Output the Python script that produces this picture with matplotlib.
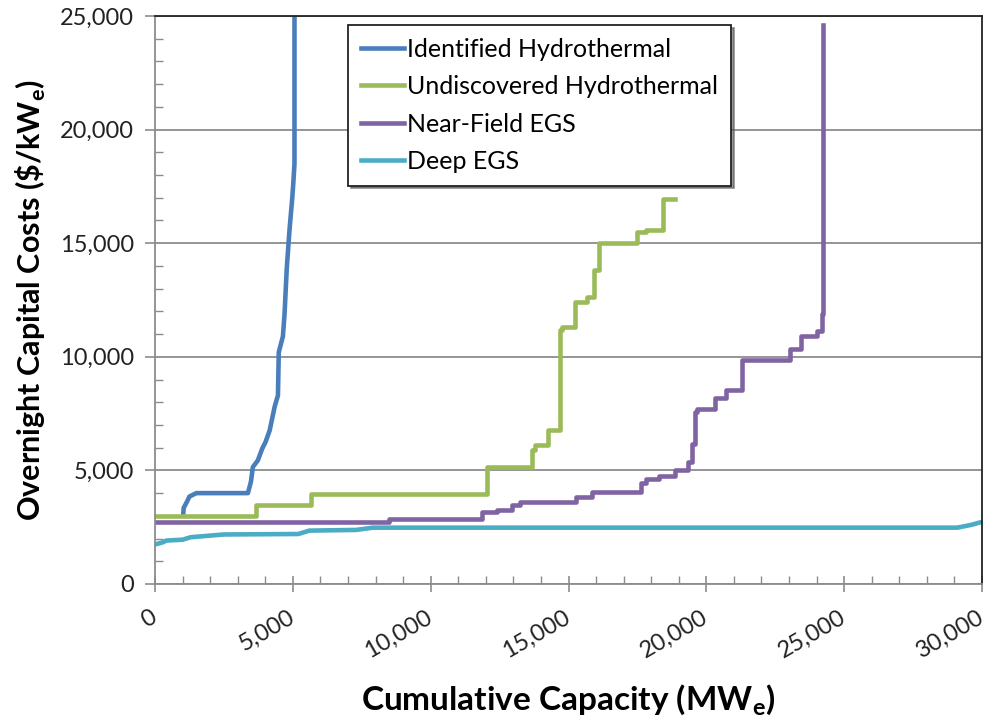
import matplotlib.pyplot as plt
from matplotlib.ticker import MultipleLocator, FuncFormatter

# Supply curves (MW_e, $/kW_e)
ident_x = [1020, 1040, 1150, 1250, 1500, 3370, 3480, 3550, 3730, 3890, 4010, 4160,
           4340, 4460, 4490, 4640, 4700, 4780, 4880, 4980, 5020, 5060, 5060]
ident_y = [3000, 3350, 3600, 3850, 4000, 4000, 4500, 5150, 5440, 5960, 6250, 6760,
           7800, 8300, 10200, 10900, 11900, 13900, 15600, 17000, 17700, 18500, 26000]

undisc_x = [0, 3670, 5660, 12030, 13660, 13800, 14270, 14690, 14750, 15230, 15660,
            15920, 16120, 17500, 17810, 18440, 18880]
undisc_y = [3000, 3460, 3970, 5160, 5900, 6120, 6780, 11180, 11330, 12430, 12650,
            13820, 15000, 15510, 15580, 16930, 16930]

near_x = [0, 8500, 11850, 12390, 12940, 13240, 15290, 15840, 17640, 17820, 18300,
          18850, 19330, 19470, 19600, 19660, 20300, 20700, 21310, 23050, 23430,
          24000, 24210, 24240]
near_y = [2740, 2870, 3180, 3260, 3480, 3620, 3840, 4040, 4430, 4630, 4750,
          5020, 5380, 6150, 7580, 7700, 8180, 8550, 9860, 10340, 10910,
          11120, 11900, 24600]

deep_x = [0, 300, 400, 1000, 1300, 2000, 2500, 5200, 5600, 7300, 7900, 29100, 29600, 30200]
deep_y = [1740, 1840, 1910, 1950, 2060, 2130, 2180, 2200, 2350, 2380, 2480, 2480, 2600, 2800]

labels = ["Identified Hydrothermal", "Undiscovered Hydrothermal", "Near-Field EGS", "Deep EGS"]
colors = ["#4A7EBB", "#9BBB59", "#8064A2", "#4BACC6"]

plt.rcParams['font.family'] = ['Lato', 'DejaVu Sans']
plt.rcParams['mathtext.fontset'] = 'custom'
plt.rcParams['mathtext.rm'] = 'Lato'
plt.rcParams['mathtext.bf'] = 'Lato:bold'

fig = plt.figure(figsize=(9.87, 7.21), dpi=100)
ax = fig.add_axes([155 / 987, 137 / 721, 827 / 987, 568 / 721])

lw = 3.3
ax.plot(ident_x, ident_y, color=colors[0], lw=lw, label=labels[0])
ax.plot(undisc_x, undisc_y, color=colors[1], lw=lw, drawstyle='steps-post', label=labels[1])
ax.plot(near_x, near_y, color=colors[2], lw=lw, drawstyle='steps-post', label=labels[2])
ax.plot(deep_x, deep_y, color=colors[3], lw=lw, label=labels[3])

ax.set_xlim(0, 30000)
ax.set_ylim(0, 25000)

# grid and ticks
ax.yaxis.set_major_locator(MultipleLocator(5000))
ax.yaxis.set_minor_locator(MultipleLocator(1000))
ax.xaxis.set_major_locator(MultipleLocator(5000))
ax.xaxis.set_minor_locator(MultipleLocator(1000))
ax.grid(axis='y', which='major', color='#8c8c8c', lw=1.3)
ax.set_axisbelow(True)
fmt = FuncFormatter(lambda v, p: f"{int(v):,}")
ax.xaxis.set_major_formatter(fmt)
ax.yaxis.set_major_formatter(fmt)
ax.tick_params(which='major', direction='inout', length=12, width=1.2, color='#8c8c8c',
               labelsize=17, labelcolor='#222222')
ax.tick_params(which='minor', direction='in', length=6, width=1, color='#8c8c8c')
ax.tick_params(axis='y', which='major', direction='out', length=7, pad=8)
ax.tick_params(axis='x', which='major', pad=17)
plt.setp(ax.get_xticklabels(), rotation=30, ha='right', va='center', rotation_mode='anchor')

for side in ['left', 'bottom']:
    ax.spines[side].set_color('#8c8c8c')
    ax.spines[side].set_linewidth(1.3)
for side in ['top', 'right']:
    ax.spines[side].set_color('#222222')
    ax.spines[side].set_linewidth(1.3)

ax.set_xlabel(r"Cumulative Capacity (MW$_\mathbf{e}$)", fontsize=24, fontweight='bold')
ax.set_ylabel(r"Overnight Capital Costs (\$/kW$_\mathbf{e}$)", fontsize=22,
              fontweight='bold')
ax.xaxis.set_label_coords(0.5, -(683 - 584) / 568)
ax.yaxis.set_label_coords(-(155 - 48) / 827, 0.5)

leg = ax.legend(loc='upper left', bbox_to_anchor=(193 / 827, 0.984), fontsize=18,
                frameon=True, fancybox=False, handlelength=1.75,
                handletextpad=0.12, labelspacing=0.58, borderpad=0.5,
                borderaxespad=0, framealpha=1,
                shadow={'color': '#555555', 'alpha': 0.6})
leg.get_frame().set_edgecolor('#222222')
leg.get_frame().set_linewidth(1.3)
leg.get_frame().set_facecolor('white')
for line in leg.get_lines():
    line.set_linewidth(3.3)

fig.savefig("out.png", dpi=100)
